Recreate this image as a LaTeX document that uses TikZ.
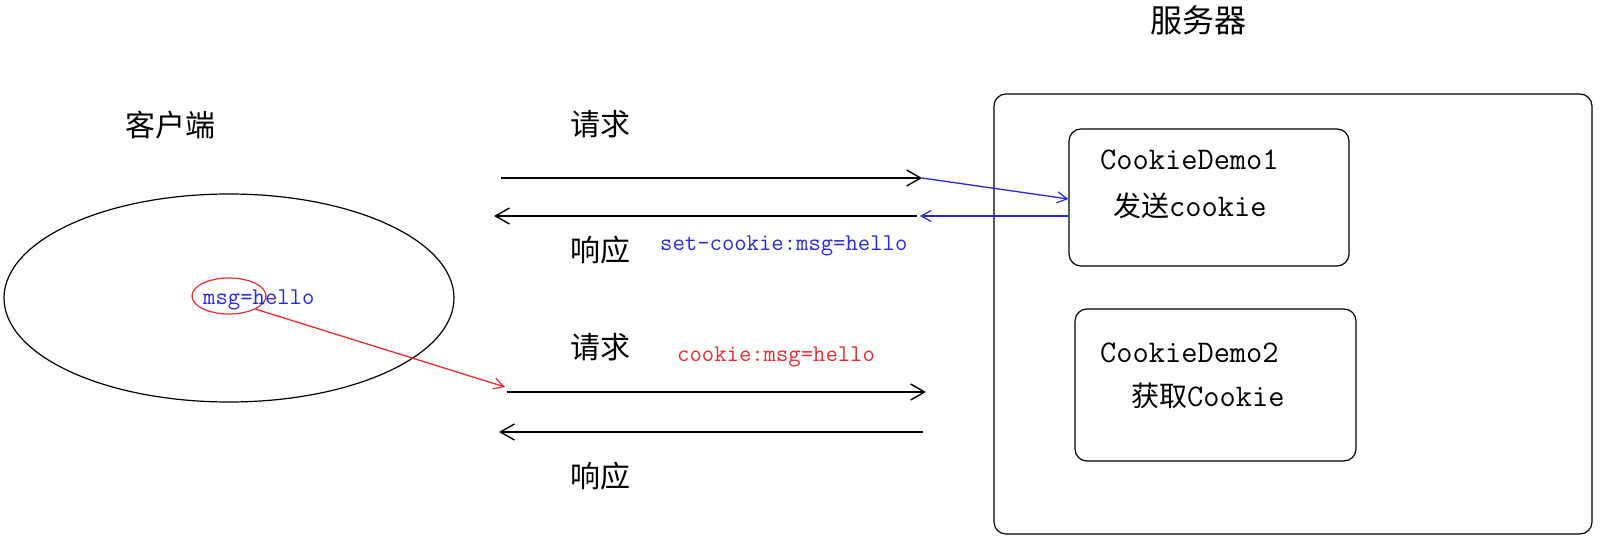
\documentclass[tikz,border=0pt]{standalone}
\usepackage{fontspec}
\setmainfont{Latin Modern Mono}
\newfontfamily\cjk{Noto Sans CJK SC}
\usetikzlibrary{arrows.meta,shapes.geometric}
\definecolor{myblue}{RGB}{40,40,225}
\definecolor{myred}{RGB}{228,45,45}
\begin{document}
\begin{tikzpicture}[x=1pt,y=-1pt,
  lbl/.style={inner sep=0pt, font=\cjk\fontsize{30}{36}\selectfont},
  code/.style={inner sep=0pt, anchor=west, font=\fontsize{24}{28}\selectfont},
  demo/.style={inner sep=0pt, anchor=west, font=\fontsize{31.5}{36}\selectfont},
  rbox/.style={draw, rounded corners=12pt, line width=1.2pt, inner sep=0pt},
  arr/.style={line width=1.6pt, -{Straight Barb[length=14pt,width=16pt,line width=1.4pt]}},
  barr/.style={myblue, line width=1.3pt, -{Straight Barb[length=10pt,width=11pt,line width=1.2pt]}},
  rarr/.style={myred, line width=1.3pt, -{Straight Barb[length=10pt,width=11pt,line width=1.2pt]}},
]
\useasboundingbox (0,0) rectangle (1603,540);

% server
\node[rbox, minimum width=598pt, minimum height=440pt] (server) at (1293,314) {};
\node[lbl, font=\cjk\fontsize{32}{38}\selectfont] (servlbl) at (1198,20) {服务器};
\node[rbox, minimum width=280pt, minimum height=137pt] (b1) at (1209,197.5) {};
\node[rbox, minimum width=281pt, minimum height=152pt] (b2) at (1215.5,385) {};
\node[demo] (d1a) at (1100,160) {CookieDemo1};
\node[demo] (d1b) at (1113,206) {{\cjk\fontsize{28}{32}\selectfont 发送}cookie};
\node[demo] (d2a) at (1100,353) {CookieDemo2};
\node[demo] (d2b) at (1131,396) {{\cjk\fontsize{28}{32}\selectfont 获取}Cookie};

% client
\node[lbl] (clientlbl) at (170,125) {客户端};
\node[draw, ellipse, line width=1.2pt, minimum width=450pt, minimum height=208pt, inner sep=0pt] (client) at (229,298) {};
\node[draw=myred, ellipse, line width=1.2pt, minimum width=74pt, minimum height=36pt, inner sep=0pt] (ck) at (229,296) {};
\node[code, text=myblue] (msg) at (203,300) {msg=hello};

% labels
\node[lbl] (req1) at (600,124) {请求};
\node[lbl] (resp1) at (600,250) {响应};
\node[lbl] (req2) at (600,347) {请求};
\node[lbl] (resp2) at (600,476) {响应};
\node[code, text=myblue] (setck) at (660,246) {set-cookie:msg=hello};
\node[code, text=myred] (ckmsg) at (677,357) {cookie:msg=hello};

% coordinates
\coordinate (a1s) at (501,178);
\coordinate (a1e) at (922,178);
\coordinate (a2s) at (917,216);
\coordinate (a2e) at (494,216);
\coordinate (a2b) at (920,216);
\coordinate (a3s) at (507,392);
\coordinate (a3e) at (926,392);
\coordinate (a4s) at (923,432);
\coordinate (a4e) at (499,432);
\coordinate (rend) at (505,387);

% arrows
\draw[arr] (a1s) -- (a1e);
\draw[barr] (a1e) -- ([yshift=-1.5pt]b1.west);
\draw[barr] (b1.west |- a2b) -- (a2b);
\draw[arr] (a2s) -- (a2e);
\draw[arr] (a3s) -- (a3e);
\draw[arr] (a4s) -- (a4e);
\draw[rarr] (ck.south east) -- (rend);
\end{tikzpicture}
\end{document}
